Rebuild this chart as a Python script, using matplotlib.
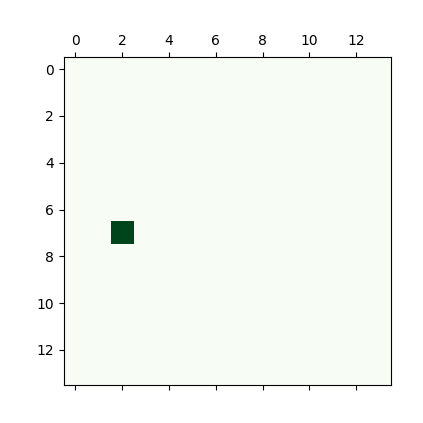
import numpy as np
import matplotlib
matplotlib.use("Agg")
import matplotlib.pyplot as plt

# grid size and the single occupied cell
n_rows = 14
n_cols = 14
hot_rows = [7]
hot_cols = [2]
hot_vals = [1.0]

grid = np.zeros((n_rows, n_cols))
for r, c, v in zip(hot_rows, hot_cols, hot_vals):
    grid[r, c] = v

fig = plt.figure(figsize=(4.23, 4.23), dpi=100)
ax = fig.add_axes([63.8 / 423, 38 / 423, 327.5 / 423, 327.5 / 423])
ax.matshow(grid, cmap="Greens")
ax.set_xticks(range(0, n_cols, 2))
ax.set_yticks(range(0, n_rows, 2))

plt.savefig("out.png", dpi=100)
plt.close()
